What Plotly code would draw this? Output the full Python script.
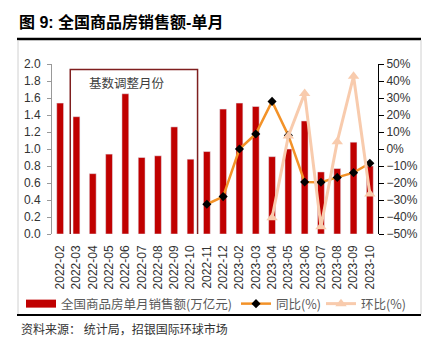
import plotly.graph_objects as go

categories = ["2022-02", "2022-03", "2022-04", "2022-05", "2022-06", "2022-07", "2022-08",
              "2022-09", "2022-10", "2022-11", "2022-12", "2023-02", "2023-03", "2023-04",
              "2023-05", "2023-06", "2023-07", "2023-08", "2023-09", "2023-10"]
sales = [1.54, 1.38, 0.71, 0.94, 1.65, 0.90, 0.92, 1.26, 0.88, 0.97, 1.47,
         1.54, 1.50, 0.91, 1.00, 1.33, 0.73, 0.77, 1.08, 0.80]
yoy = [None, None, None, None, None, None, None, None, None, -32.5, -28.0,
       0.0, 8.8, 28.0, 8.0, -19.4, -19.6, -16.7, -13.9, -8.4]
mom = [None, None, None, None, None, None, None, None, None, None, None,
       None, None, -40.4, 7.6, 32.7, -45.7, 4.3, 42.8, -26.5]

W, H = 429, 346
L, R = 52, 378   # plot area x px
T, B = 64, 234   # plot area y px

def px(x):
    return (x - L) / (R - L)

def py(y):
    return (B - y) / (B - T)

font_cjk = "Noto Sans CJK SC"

fig = go.Figure()
fig.add_trace(go.Bar(x=categories, y=sales, marker_color="#C00000", width=0.42,
                     name="全国商品房单月销售额(万亿元)", showlegend=False))
fig.add_trace(go.Scatter(x=[None], y=[None], mode="lines",
                         line=dict(color="#C00000", width=8),
                         name="全国商品房单月销售额(万亿元)", legend="legend"))
fig.add_trace(go.Scatter(x=categories, y=yoy, mode="lines+markers", yaxis="y2",
                         line=dict(color="#F39228", width=2.5),
                         marker=dict(symbol="diamond", size=7, color="black"),
                         name="同比(%)", legend="legend2"))
fig.add_trace(go.Scatter(x=categories, y=mom, mode="lines+markers", yaxis="y2",
                         line=dict(color="#F8CBAD", width=3),
                         marker=dict(symbol="triangle-up", size=10, color="#F8CBAD"),
                         name="环比(%)", legend="legend3"))

def leg(xpix):
    return dict(orientation="h", xref="container", yref="container",
                x=xpix / W, y=1 - 304 / H, xanchor="left", yanchor="middle",
                font=dict(family=font_cjk, size=12.5, color="#595959"),
                itemwidth=30, bgcolor="rgba(0,0,0,0)", borderwidth=0)

fig.update_layout(
    width=W, height=H,
    margin=dict(l=L, r=W - R, t=T, b=H - B, pad=0, autoexpand=False),
    paper_bgcolor="white", plot_bgcolor="white",
    font=dict(family="Liberation Sans, " + font_cjk, size=12, color="#333333"),
    title=dict(text="<b>图 9: 全国商品房销售额-单月</b>", xref="container", yref="container",
               x=19 / W, y=1 - 22 / H, xanchor="left", yanchor="middle",
               font=dict(family="Liberation Sans, " + font_cjk, size=16, color="black")),
    xaxis=dict(type="category", range=[-0.5, len(categories) - 0.5], tickangle=-90,
               showgrid=False, showline=False, ticks="",
               tickfont=dict(size=12, color="#333333"),
               ticklabelstandoff=8, automargin=False),
    yaxis=dict(range=[0, 2], dtick=0.2, tickformat=".1f", showgrid=False,
               showline=True, linecolor="#999999", linewidth=1, ticks="outside",
               ticklen=4, tickcolor="#999999", tickfont=dict(size=12, color="#333333"),
               ticklabelstandoff=4, zeroline=False, automargin=False),
    yaxis2=dict(range=[-50, 50], dtick=10, ticksuffix="%", overlaying="y", side="right",
                showgrid=False, showline=True, linecolor="black", linewidth=1,
                ticks="outside", ticklen=5, tickcolor="black",
                tickfont=dict(size=12, color="#333333"), zeroline=False, automargin=False),
    legend=leg(21),
    legend2=leg(236),
    legend3=leg(321),
    bargap=0.5,
)

shapes = [
    # base-adjustment box
    dict(type="rect", xref="x", yref="y", x0=0.62, x1=8.43, y0=-0.04, y1=1.935,
         line=dict(color="#7F1F1F", width=1.5), fillcolor="rgba(0,0,0,0)"),
    # top thick rule
    dict(type="line", xref="paper", yref="paper", x0=px(17), x1=px(421),
         y0=py(39), y1=py(39), line=dict(color="black", width=2.5)),
    # bottom rule
    dict(type="line", xref="paper", yref="paper", x0=px(17), x1=px(421),
         y0=py(315), y1=py(315), line=dict(color="black", width=2)),
    # light frame sides
    dict(type="line", xref="paper", yref="paper", x0=px(18), x1=px(18),
         y0=py(40), y1=py(314), line=dict(color="#D0D0D0", width=1)),
    dict(type="line", xref="paper", yref="paper", x0=px(421), x1=px(421),
         y0=py(40), y1=py(314), line=dict(color="#D0D0D0", width=1)),
]
fig.update_layout(shapes=shapes)

fig.add_annotation(text="基数调整月份", xref="x", yref="y", x=4.08, y=1.78,
                   showarrow=False, font=dict(family=font_cjk, size=12.5, color="#404040"))
fig.add_annotation(text="资料来源： 统计局，招银国际环球市场", xref="paper", yref="paper",
                   x=px(19), y=py(328), xanchor="left", yanchor="middle", showarrow=False,
                   font=dict(family=font_cjk, size=12, color="#333333"))

fig.write_html("out.html")
